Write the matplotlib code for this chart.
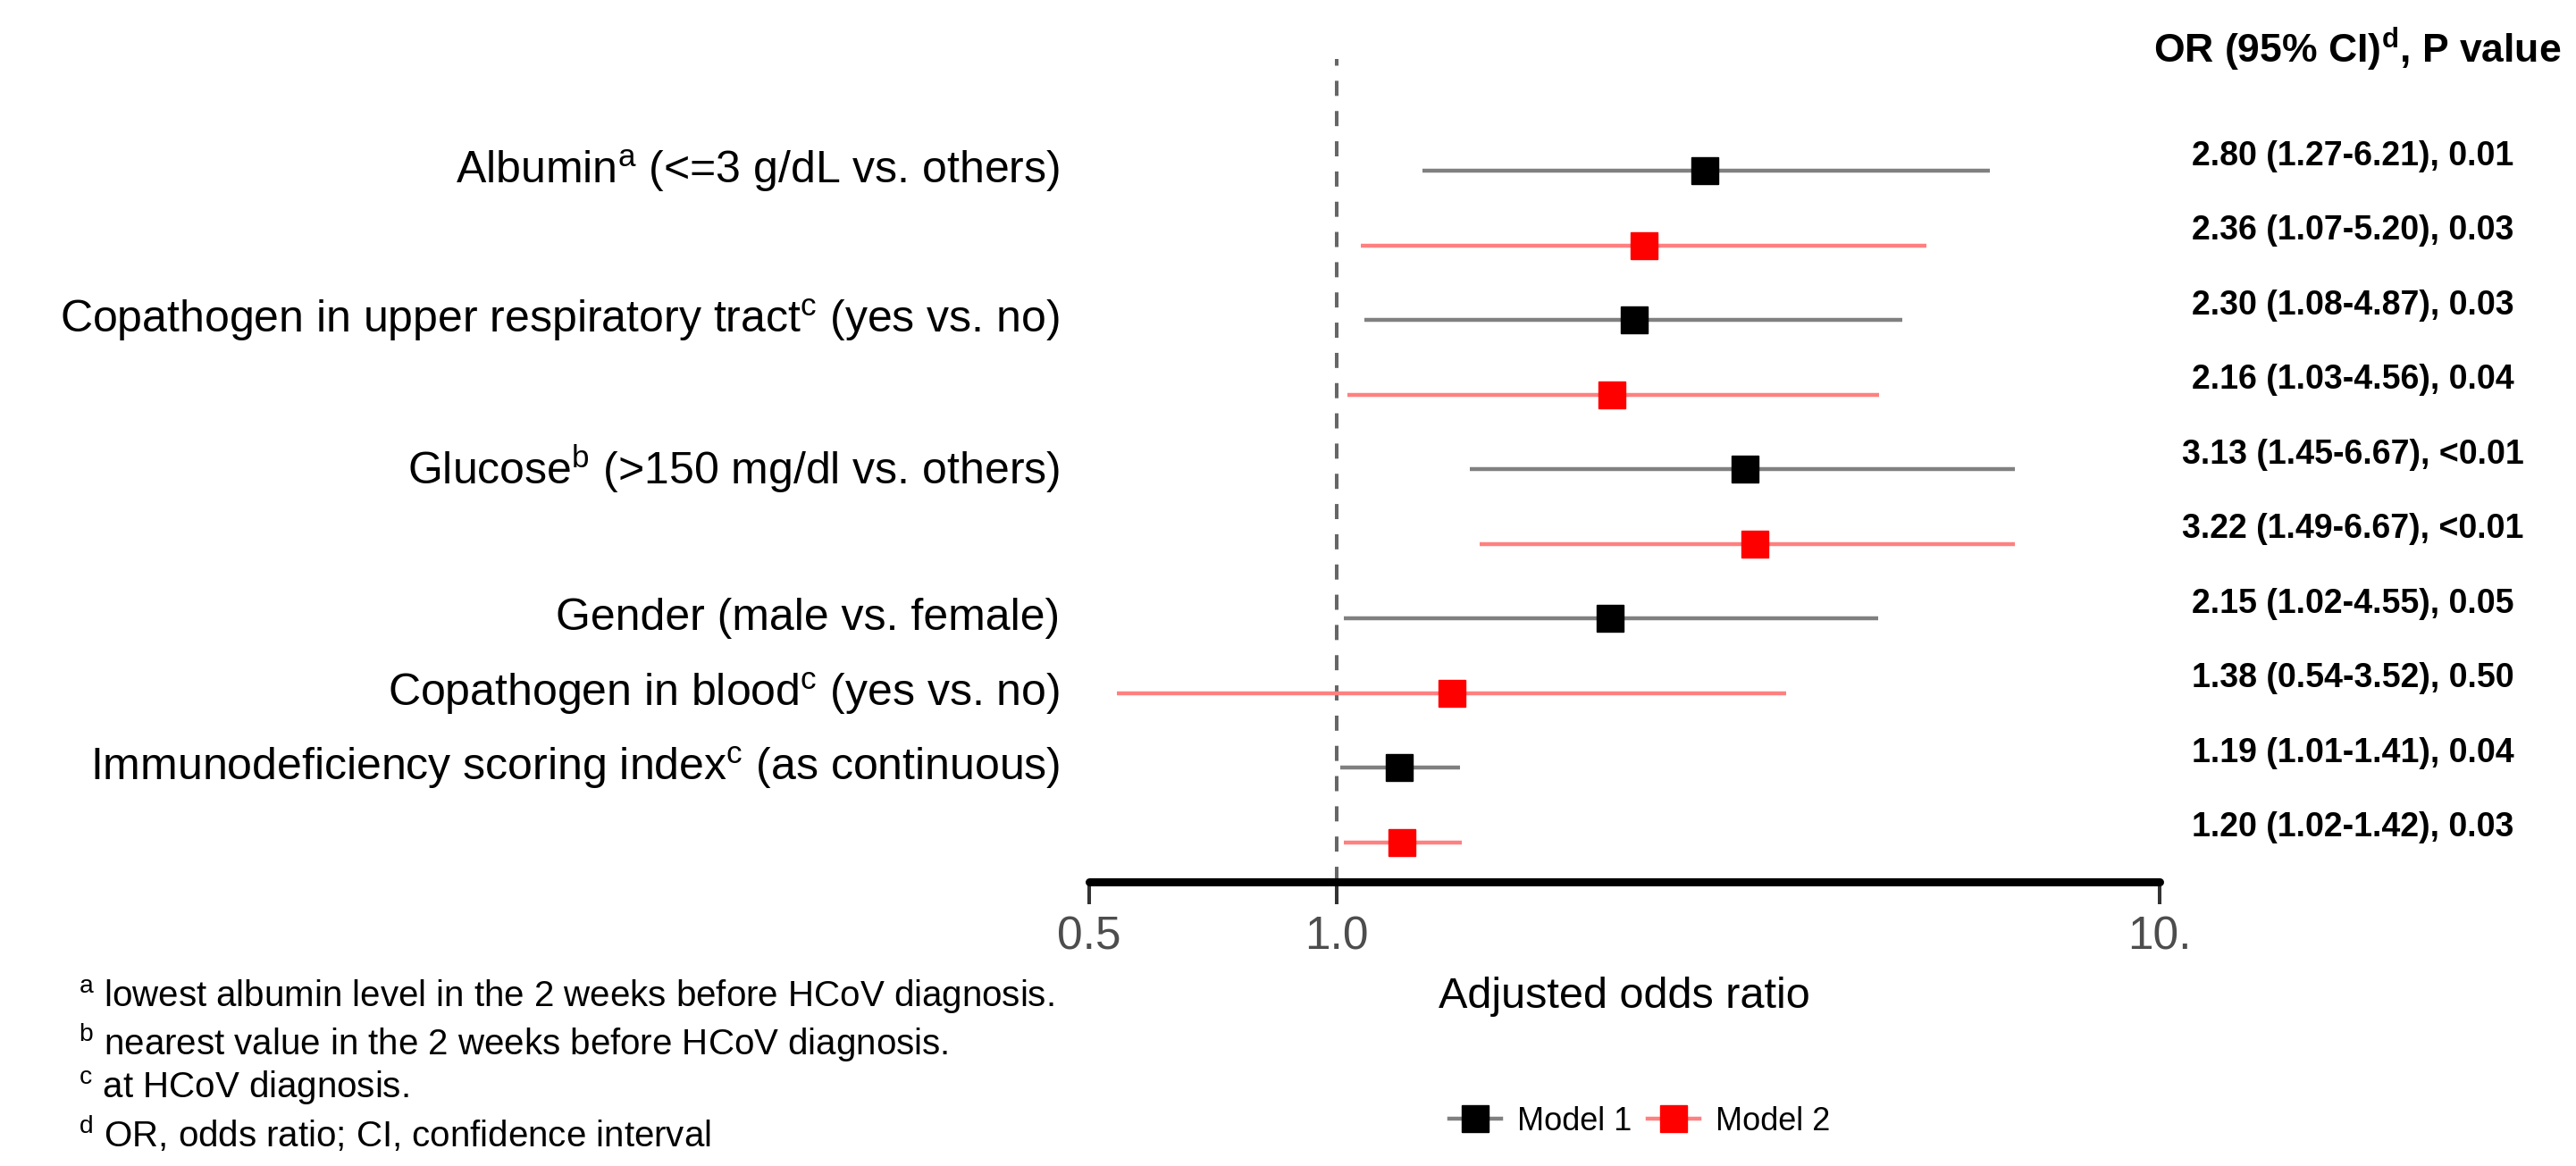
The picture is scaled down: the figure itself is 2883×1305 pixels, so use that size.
import matplotlib
matplotlib.use("Agg")
import matplotlib.pyplot as plt
from matplotlib import transforms
from matplotlib.lines import Line2D
from matplotlib.ticker import NullLocator

plt.rcParams['font.family'] = ['Liberation Sans', 'DejaVu Sans']
plt.rcParams['mathtext.fontset'] = 'custom'
plt.rcParams['mathtext.rm'] = 'Liberation Sans'
plt.rcParams['mathtext.it'] = 'Liberation Sans:italic'
plt.rcParams['mathtext.bf'] = 'Liberation Sans:bold'

# one row per estimate, top to bottom
row_model = [1, 2, 1, 2, 1, 2, 1, 2, 1, 2]
or_vals = [2.80, 2.36, 2.30, 2.16, 3.13, 3.22, 2.15, 1.38, 1.19, 1.20]
ci_low = [1.27, 1.07, 1.08, 1.03, 1.45, 1.49, 1.02, 0.54, 1.01, 1.02]
ci_high = [6.21, 5.20, 4.87, 4.56, 6.67, 6.67, 4.55, 3.52, 1.41, 1.42]
p_vals = ["0.01", "0.03", "0.03", "0.04", "<0.01", "<0.01", "0.05", "0.50", "0.04", "0.03"]

var_labels = [
    r"Albumin$^{\mathrm{a}}$ (<=3 g/dL vs. others)",
    r"Copathogen in upper respiratory tract$^{\mathrm{c}}$ (yes vs. no)",
    r"Glucose$^{\mathrm{b}}$ (>150 mg/dl vs. others)",
    "Gender (male vs. female)",
    r"Copathogen in blood$^{\mathrm{c}}$ (yes vs. no)",
    r"Immunodeficiency scoring index$^{\mathrm{c}}$ (as continuous)",
]
label_rows = [0, 2, 4, 6, 7, 8]

tick_vals = [0.5, 1.0, 10]
tick_labels = ["0.5", "1.0", "10."]

footnotes = [
    r"${}^{\mathrm{a}}$ lowest albumin level in the 2 weeks before HCoV diagnosis.",
    r"${}^{\mathrm{b}}$ nearest value in the 2 weeks before HCoV diagnosis.",
    r"${}^{\mathrm{c}}$ at HCoV diagnosis.",
    r"${}^{\mathrm{d}}$ OR, odds ratio; CI, confidence interval",
]

styles = {
    1: dict(line='#808080', face='black', name='Model 1'),
    2: dict(line='#ff8080', face='#ff0000', name='Model 2'),
}

n = len(or_vals)
ys = [n - i for i in range(n)]

fig = plt.figure(figsize=(28.83, 13.05), dpi=100)
ax = fig.add_axes([0.4228, 0.2437, 0.4156, 0.7057])
ax.set_xscale('log')
ax.set_xlim(0.5, 10)
ax.set_ylim(0.47, n + 1.5)

ax.axvline(1.0, color='#666666', lw=2.9, dashes=(4.2, 4.2), zorder=1)

for y, m, o, lo, hi in zip(ys, row_model, or_vals, ci_low, ci_high):
    st = styles[m]
    ax.hlines(y, lo, hi, color=st['line'], lw=3.2, zorder=2)
    ax.plot(o, y, marker='s', ms=22, color=st['face'], mec=st['face'], zorder=3)

ax.set_xticks(tick_vals)
ax.set_xticklabels(tick_labels)
ax.xaxis.set_minor_locator(NullLocator())
ax.set_yticks([])
ax.tick_params(axis='x', direction='out', length=18, width=2.9, color='#333333',
               labelcolor='#4d4d4d', labelsize=37, pad=9)
for s in ['left', 'right', 'top']:
    ax.spines[s].set_visible(False)
ax.spines['bottom'].set_linewidth(6.5)
ax.spines['bottom'].set_capstyle('round')
ax.set_xlabel('Adjusted odds ratio', fontsize=35, labelpad=14)

# variable names to the left of the axis
lab_tr = transforms.blended_transform_factory(fig.transFigure, ax.transData)
for lab, r in zip(var_labels, label_rows):
    ax.text(0.4114, ys[r], lab, transform=lab_tr, ha='right', va='center', fontsize=36)

# OR (95% CI), P value column
for y, o, lo, hi, p in zip(ys, or_vals, ci_low, ci_high, p_vals):
    ax.text(0.9135, y + 0.2, f"{o:.2f} ({lo:.2f}-{hi:.2f}), {p}", transform=lab_tr,
            ha='center', va='center', fontsize=27, fontweight='bold', clip_on=False)
fig.text(0.915, 0.958, r"OR (95% CI)$^{\mathbf{d}}$, P value", ha='center', va='center',
         fontsize=32, fontweight='bold')

for i, fn in enumerate(footnotes):
    fig.text(0.0305, 0.1448 - i * 0.0391, fn, ha='left', va='center', fontsize=29)

handles = [Line2D([0], [0], color=styles[m]['line'], lw=3.2, marker='s', ms=21,
                  mfc=styles[m]['face'], mec=styles[m]['face']) for m in (1, 2)]
fig.legend(handles, [styles[m]['name'] for m in (1, 2)], loc='center',
           bbox_to_anchor=(0.6365, 0.0383), ncol=2, frameon=False, fontsize=26,
           handlelength=1.6, handletextpad=0.5, columnspacing=0.5)

fig.savefig('out.png', dpi=100)
